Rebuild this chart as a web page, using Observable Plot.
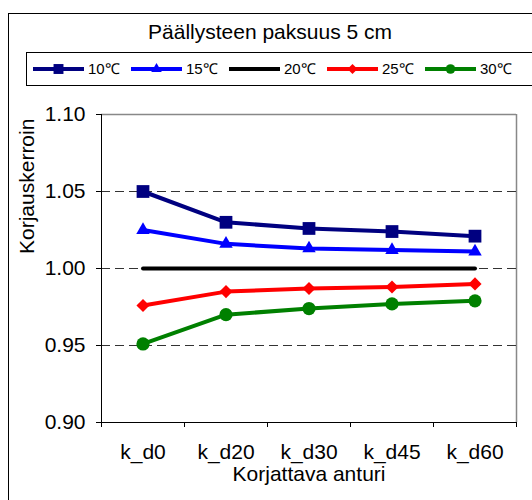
<!DOCTYPE html>
<html>
<head>
<meta charset="utf-8">
<script src="https://cdn.jsdelivr.net/npm/d3@7"></script>
<script src="https://cdn.jsdelivr.net/npm/@observablehq/plot@0.6"></script>
<style>
  body { margin: 0; background: #fff; font-family: "Liberation Sans", Arial, sans-serif; }
  #chart { position: relative; width: 532px; height: 500px; overflow: hidden; background: #fff; }
  #frame { position: absolute; left: 8px; top: 13px; width: 600px; height: 600px; border: 1px solid #000; }
  #title { position: absolute; left: 0; width: 540px; top: 20px; text-align: center; font-size: 21px; line-height: 24px; color: #000; }
  #legend { position: absolute; left: 26px; top: 52px; width: 600px; height: 32px; border: 1px solid #000; background: #fff; }
  .item { position: absolute; top: 0; height: 32px; }
  .item svg { position: absolute; left: 0; top: 6px; }
  .item span { position: absolute; left: 55px; top: 7px; font-size: 15px; line-height: 18px; color: #000; white-space: nowrap; }
  #plot { position: absolute; left: 0; top: 90px; }
</style>
</head>
<body>
<div id="chart">
  <div id="frame"></div>
  <div id="title">Päällysteen paksuus 5 cm</div>
  <div id="legend"></div>
  <div id="plot"></div>
</div>
<script>
// Sensors (x categories) and correction factors per temperature
const sensors = ["k_d0", "k_d20", "k_d30", "k_d45", "k_d60"];
const temps = ["10℃", "15℃", "20℃", "25℃", "30℃"];
const k10 = [1.050, 1.030, 1.026, 1.024, 1.021];
const k15 = [1.025, 1.016, 1.013, 1.012, 1.011];
const k20 = [1.000, 1.000, 1.000, 1.000, 1.000];
const k25 = [0.976, 0.985, 0.987, 0.988, 0.990];
const k30 = [0.951, 0.970, 0.974, 0.977, 0.979];
const yTicks = [0.90, 0.95, 1.00, 1.05, 1.10];
const gridTicks = [0.95, 1.00, 1.05];

// Series styling
const seriesValues = [k10, k15, k20, k25, k30];
const colors = ["#000080", "#0000ff", "#000000", "#ff0000", "#008000"];
const symbols = ["square", "triangle", null, "diamond2", "circle"];
const radii = [7.2, 5.0, 0, 5.9, 6.6];
const legendRadii = [5.6, 3.9, 0, 4.5, 4.8];
const d3Symbols = {square: d3.symbolSquare, triangle: d3.symbolTriangle, diamond2: d3.symbolDiamond2, circle: d3.symbolCircle};

const series = temps.map((t, s) =>
  sensors.map((name, i) => ({temp: t, sensor: name, i, value: seriesValues[s][i]}))
);

// Legend
const legend = d3.select("#legend");
temps.forEach((t, s) => {
  const item = legend.append("div").attr("class", "item").style("left", (6 + 98 * s) + "px");
  const svg = item.append("svg").attr("width", 52).attr("height", 20);
  svg.append("line").attr("x1", 0).attr("x2", 51).attr("y1", 10).attr("y2", 10)
    .attr("stroke", colors[s]).attr("stroke-width", 4);
  if (symbols[s]) {
    const r = legendRadii[s];
    svg.append("path")
      .attr("d", d3.symbol(d3Symbols[symbols[s]], Math.PI * r * r)())
      .attr("transform", "translate(25.5,10)")
      .attr("fill", colors[s]);
  }
  item.append("span").text(t);
});

const marks = [
  // Plot area borders and grid
  Plot.ruleY([1.10], {stroke: "#888", strokeWidth: 1.5}),
  Plot.ruleX([4.5], {stroke: "#888", strokeWidth: 1.5}),
  Plot.ruleY(gridTicks, {stroke: "#333", strokeWidth: 1, strokeDasharray: "9,5"}),
  Plot.ruleX([-0.5], {stroke: "#000", strokeWidth: 1}),
  Plot.ruleY([0.90], {stroke: "#000", strokeWidth: 1}),
  // Axes
  Plot.axisY({ticks: yTicks, tickSize: 5, tickPadding: 11, tickFormat: d => d.toFixed(2), fontSize: 21, label: null}),
  Plot.axisX({ticks: d3.range(-0.5, 5, 1), tickSize: 5, tickFormat: () => "", label: null}),
  Plot.axisX({ticks: d3.range(0, 5), tickSize: 0, tickPadding: 22, tickFormat: i => sensors[i], fontSize: 21, label: null}),
  Plot.text(["Korjattava anturi"], {frameAnchor: "bottom", dy: 58.6, fontSize: 21, fill: "#000"}),
  Plot.text(["Korjauskerroin"], {frameAnchor: "left", rotate: -90, dx: -74.7, dy: -14.5, fontSize: 21, fill: "#000"})
];

series.forEach((data, s) => {
  marks.push(Plot.line(data, {x: "i", y: "value", stroke: colors[s], strokeWidth: 4, strokeLinecap: "round", strokeLinejoin: "round"}));
});
series.forEach((data, s) => {
  if (symbols[s]) {
    marks.push(Plot.dot(data, {x: "i", y: "value", symbol: symbols[s], r: radii[s], fill: colors[s], stroke: "none"}));
  }
});

const chart = Plot.plot({
  width: 532,
  height: 410,
  marginLeft: 101,
  marginRight: 16,
  marginTop: 24,
  marginBottom: 78,
  style: {fontFamily: "'Liberation Sans', Arial, sans-serif", fontSize: "21px", background: "transparent", color: "#000", overflow: "visible"},
  x: {type: "linear", domain: [-0.5, 4.5], axis: null},
  y: {type: "linear", domain: [0.90, 1.10], axis: null},
  marks
});
document.getElementById("plot").append(chart);
</script>
</body>
</html>
